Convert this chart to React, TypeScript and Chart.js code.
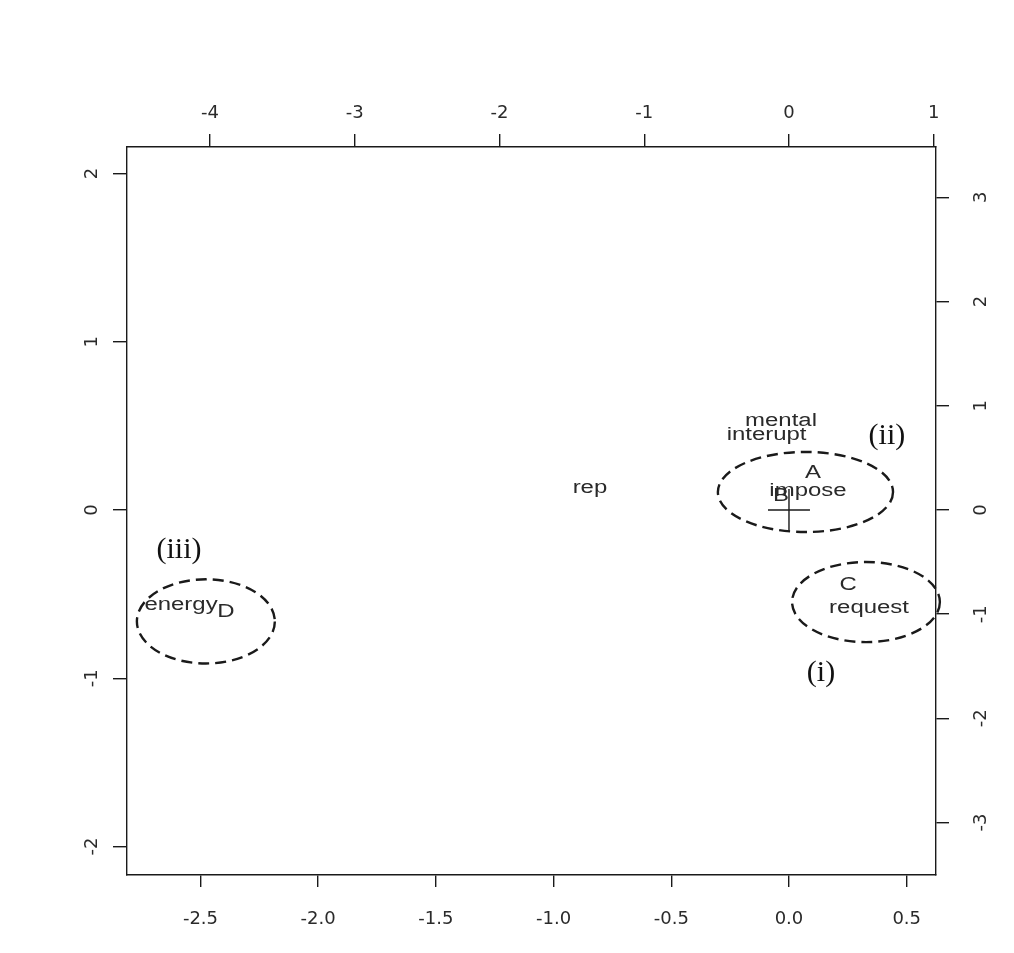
import { useEffect, useRef } from 'react';
import { Chart, ChartConfiguration, Plugin, registerables } from 'chart.js';

Chart.register(...registerables);

// tick values of the four biplot axes
const bottomTicks = [-2.5, -2.0, -1.5, -1.0, -0.5, 0.0, 0.5];
const leftTicks = [-2, -1, 0, 1, 2];
const topTicks = [-4, -3, -2, -1, 0, 1];
const rightTicks = [-3, -2, -1, 0, 1, 2, 3];

// observations (bottom / left axes)
const caseNames = ['A', 'B', 'C', 'D'];
const caseX = [0.102, -0.034, 0.251, -2.392];
const caseY = [0.22, 0.083, -0.446, -0.609];

// variables (top / right axes)
const varNames = ['mental', 'interupt', 'impose', 'request', 'energy', 'rep'];
const varX = [-0.055, -0.155, 0.131, 0.553, -4.2, -1.375];
const varY = [0.854, 0.72, 0.182, -0.94, -0.917, 0.211];

// origin marker
const originX = [0];
const originY = [0];

// groups circled by hand (bottom / left axes)
const groupNames = ['(i)', '(ii)', '(iii)'];
const groupLabelX = [0.136, 0.416, -2.591];
const groupLabelY = [-0.969, 0.44, -0.238];
const groupCenterX = [0.327, 0.07, -2.477];
const groupCenterY = [-0.547, 0.107, -0.662];
const groupRadiusX = [0.314, 0.372, 0.293];
const groupRadiusY = [0.238, 0.238, 0.25];

const TEXT = '#2a2a2a';
const LINE = '#1a1a1a';
const tickFont = { family: '"DejaVu Sans"', size: 18 };

const textPlugin: Plugin<'scatter'> = {
  id: 'biplotText',
  afterDatasetsDraw(chart) {
    const { ctx } = chart;
    const xs = chart.scales.x;
    const ys = chart.scales.y;
    ctx.save();

    // point labels, R style (slightly wide)
    ctx.fillStyle = TEXT;
    ctx.font = '18px "Liberation Sans"';
    ctx.textAlign = 'center';
    ctx.textBaseline = 'middle';
    const drawLabels = (index: number, names: string[]) => {
      chart.getDatasetMeta(index).data.forEach((pt, i) => {
        ctx.save();
        ctx.translate(pt.x, pt.y);
        ctx.scale(1.33, 1);
        ctx.fillText(names[i], 0, 0);
        ctx.restore();
      });
    };
    drawLabels(0, caseNames);
    drawLabels(1, varNames);

    // dashed ellipses
    ctx.strokeStyle = LINE;
    ctx.lineWidth = 2.4;
    ctx.setLineDash([11, 6]);
    groupCenterX.forEach((cx, i) => {
      const px = xs.getPixelForValue(cx);
      const py = ys.getPixelForValue(groupCenterY[i]);
      const rx = Math.abs(xs.getPixelForValue(cx + groupRadiusX[i]) - px);
      const ry = Math.abs(ys.getPixelForValue(groupCenterY[i] + groupRadiusY[i]) - py);
      ctx.beginPath();
      ctx.ellipse(px, py, rx, ry, 0, 0, Math.PI * 2);
      ctx.stroke();
    });
    ctx.setLineDash([]);

    // group numerals
    ctx.fillStyle = '#111';
    ctx.font = '30px "Liberation Serif"';
    chart.getDatasetMeta(3).data.forEach((pt, i) => {
      ctx.fillText(groupNames[i], pt.x, pt.y);
    });

    ctx.restore();
  },
};

const axisGrid = (len: number) => ({
  display: true,
  drawOnChartArea: false,
  drawTicks: true,
  tickLength: len,
  color: LINE,
  lineWidth: 1.4,
});
const axisBorder = { display: true, color: LINE, width: 1.4 };

export default function App() {
  const chartRef = useRef<HTMLCanvasElement>(null);
  const chartInstance = useRef<Chart | null>(null);

  useEffect(() => {
    if (!chartRef.current) return;
    if (chartInstance.current) {
      chartInstance.current.destroy();
    }
    const ctx = chartRef.current.getContext('2d');
    if (!ctx) return;

    const config: ChartConfiguration<'scatter'> = {
      type: 'scatter',
      data: {
        datasets: [
          {
            data: caseX.map((x, i) => ({ x, y: caseY[i] })),
            xAxisID: 'x',
            yAxisID: 'y',
            pointRadius: 0,
          },
          {
            data: varX.map((x, i) => ({ x, y: varY[i] })),
            xAxisID: 'x2',
            yAxisID: 'y2',
            pointRadius: 0,
          },
          {
            data: originX.map((x, i) => ({ x, y: originY[i] })),
            xAxisID: 'x',
            yAxisID: 'y',
            pointStyle: 'cross',
            pointRadius: 21,
            borderColor: LINE,
            borderWidth: 1.4,
          },
          {
            data: groupLabelX.map((x, i) => ({ x, y: groupLabelY[i] })),
            xAxisID: 'x',
            yAxisID: 'y',
            pointRadius: 0,
          },
        ],
      },
      options: {
        animation: false,
        responsive: true,
        maintainAspectRatio: false,
        events: [],
        layout: { padding: 0 },
        plugins: {
          legend: { display: false },
          tooltip: { enabled: false },
        },
        scales: {
          x: {
            type: 'linear',
            position: 'bottom',
            min: -2.812,
            max: 0.6245,
            afterBuildTicks: (s) => {
              s.ticks = bottomTicks.map((value) => ({ value }));
            },
            afterFit: (s) => {
              s.height = 78;
            },
            grid: axisGrid(12),
            border: axisBorder,
            ticks: {
              autoSkip: false,
              maxRotation: 0,
              padding: 22,
              color: TEXT,
              font: tickFont,
              callback: (v) => Number(v).toFixed(1),
            },
          },
          x2: {
            type: 'linear',
            position: 'top',
            min: -4.573,
            max: 1.0155,
            afterBuildTicks: (s) => {
              s.ticks = topTicks.map((value) => ({ value }));
            },
            afterFit: (s) => {
              s.height = 147;
            },
            grid: axisGrid(13),
            border: axisBorder,
            ticks: {
              autoSkip: false,
              maxRotation: 0,
              padding: 10,
              color: TEXT,
              font: tickFont,
              callback: (v) => String(v),
            },
          },
          y: {
            type: 'linear',
            position: 'left',
            min: -2.169,
            max: 2.157,
            afterBuildTicks: (s) => {
              s.ticks = leftTicks.map((value) => ({ value }));
            },
            afterFit: (s) => {
              s.width = 127;
            },
            grid: axisGrid(14),
            border: axisBorder,
            ticks: {
              autoSkip: false,
              minRotation: 90,
              maxRotation: 90,
              crossAlign: 'center',
              padding: 12,
              color: TEXT,
              font: tickFont,
              callback: (v) => String(v),
            },
          },
          y2: {
            type: 'linear',
            position: 'right',
            min: -3.503,
            max: 3.483,
            afterBuildTicks: (s) => {
              s.ticks = rightTicks.map((value) => ({ value }));
            },
            afterFit: (s) => {
              s.width = 78;
            },
            grid: axisGrid(13),
            border: axisBorder,
            ticks: {
              autoSkip: false,
              minRotation: 90,
              maxRotation: 90,
              crossAlign: 'center',
              padding: 23,
              color: TEXT,
              font: tickFont,
              callback: (v) => String(v),
            },
          },
        },
      },
      plugins: [textPlugin],
    };

    chartInstance.current = new Chart(ctx, config);

    return () => {
      if (chartInstance.current) {
        chartInstance.current.destroy();
        chartInstance.current = null;
      }
    };
  }, []);

  return (
    <div
      style={{
        position: 'absolute',
        left: 0,
        top: 0,
        width: 1014,
        height: 953,
        background: '#fff',
      }}
    >
      <canvas ref={chartRef}></canvas>
    </div>
  );
}
